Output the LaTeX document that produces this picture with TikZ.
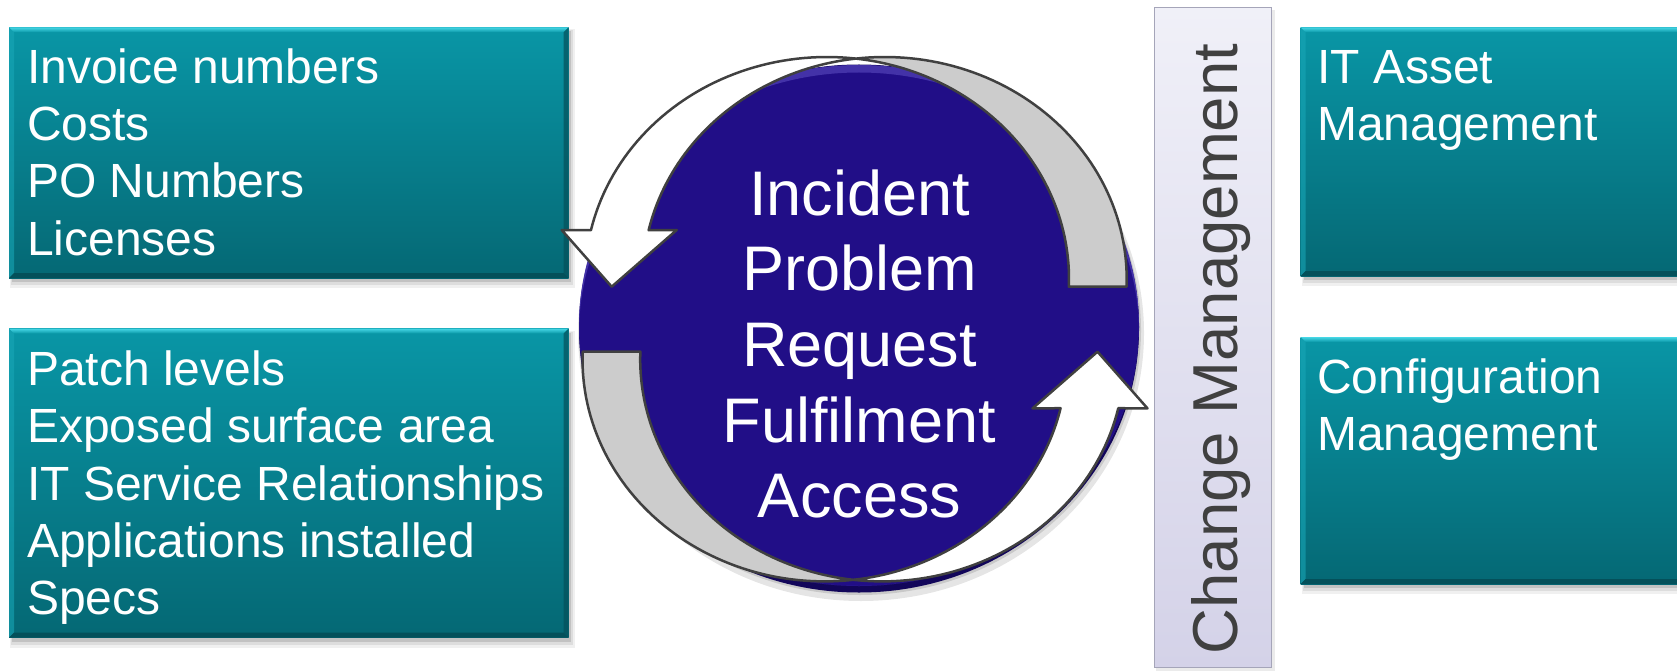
\documentclass[tikz,border=0pt]{standalone}
\usepackage{fontspec}
\setmainfont{Liberation Sans}
\definecolor{tealtop}{RGB}{9,150,166}
\definecolor{tealbot}{RGB}{5,104,116}
\definecolor{tealhi}{RGB}{70,215,230}
\definecolor{tealdk}{RGB}{4,80,90}
\definecolor{indigo}{RGB}{33,14,135}
\definecolor{indigodk}{RGB}{18,6,90}
\definecolor{indigohi}{RGB}{110,95,210}
\definecolor{bandgrey}{RGB}{204,204,204}
\definecolor{edgegrey}{RGB}{64,64,64}
\definecolor{bartop}{RGB}{240,240,248}
\definecolor{barbot}{RGB}{212,210,232}
\definecolor{barline}{RGB}{165,165,185}
\definecolor{bartext}{RGB}{64,64,64}
\newcommand{\tealbox}[4]{%
  \fill[black,opacity=0.06] (#1+1,#2+2) rectangle (#3+6,#4+10);
  \fill[black,opacity=0.08] (#1+2,#2+3) rectangle (#3+4,#4+7);
  \fill[black,opacity=0.12] (#1+3,#2+4) rectangle (#3+2,#4+4);
  \shade[top color=tealtop,bottom color=tealbot] (#1,#2) rectangle (#3,#4);
  \shade[top color=tealhi,bottom color=tealtop] (#1,#2) -- (#3,#2) -- (#3-5,#2+5) -- (#1+5,#2+5) -- cycle;
  \fill[tealtop!75!tealhi,opacity=0.6] (#1,#2) -- (#1+5,#2+5) -- (#1+5,#4-5) -- (#1,#4) -- cycle;
  \fill[tealdk,opacity=0.7] (#3,#2) -- (#3,#4) -- (#3-5,#4-5) -- (#3-5,#2+5) -- cycle;
  \fill[tealdk] (#1,#4) -- (#3,#4) -- (#3-5,#4-5) -- (#1+5,#4-5) -- cycle;
}
\tikzset{
  boxtxt/.style={text=white, font=\fontsize{48}{57.3}\selectfont, inner sep=0pt, anchor=base west},
  circtxt/.style={text=white, font=\fontsize{63}{75.7}\selectfont, inner sep=0pt, anchor=base},
  bartxt/.style={text=bartext, font=\fontsize{63.5}{70}\selectfont, inner sep=0pt, anchor=base, rotate=90},
  arrowline/.style={draw=edgegrey, line width=2.5, line join=round}
}
\begin{document}
\begin{tikzpicture}[x=1pt,y=-1pt]
\useasboundingbox (0,0) rectangle (1677,671);
% teal boxes
\tealbox{9}{27.3}{568.6}{278}
\tealbox{9}{328.5}{568.6}{637.5}
\tealbox{1300.5}{27.3}{1690}{276}
\tealbox{1300.5}{337}{1690}{584}
% change management bar
\fill[black,opacity=0.08] (1156,10) rectangle (1275,671);
\shade[top color=bartop,bottom color=barbot,draw=barline,line width=1.5] (1154.3,7.3) rectangle (1271.7,667.3);
% disk
\fill[black,opacity=0.10] (861,333) ellipse [x radius=283, y radius=268];
\fill[black,opacity=0.12] (860,330) ellipse [x radius=281, y radius=265];
\fill[indigodk] (859,328.5) ellipse [x radius=280, y radius=264];
\fill[indigo] (859,325.5) ellipse [x radius=280, y radius=260.5];
\begin{scope}
  \clip (859,325.5) ellipse [x radius=280, y radius=260.5];
  \fill[indigohi,opacity=0.45,even odd rule] (859,325.5) ellipse [x radius=280, y radius=260.5] (859,333) ellipse [x radius=280, y radius=260.5];
\end{scope}
% circular arrows (two ribbons, each bounded by two shifted elliptic arcs)
\foreach \r in {0,180}{
\begin{scope}[rotate around={\r:(854.6,319.2)}]
  \filldraw[fill=white, arrowline]
    plot[domain=167.3:83.4, samples=50, variable=\t] ({827+242*cos(\t)},{279-222*sin(\t)})
    -- plot[domain=97.1:167.3, samples=50, variable=\t] ({884.7+242*cos(\t)},{279-222*sin(\t)})
    -- (676.7,230) -- (611.7,286.7) -- (561.7,230) -- cycle;
  \filldraw[fill=bandgrey, arrowline]
    plot[domain=83.4:-2, samples=60, variable=\t] ({827+242*cos(\t)},{279-222*sin(\t)})
    -- plot[domain=-2:97.1, samples=60, variable=\t] ({884.7+242*cos(\t)},{279-222*sin(\t)})
    -- cycle;
\end{scope}
}
% texts
\node[boxtxt] (fin) at (27,83.3) {\vtop{\hbox{Invoice numbers}\hbox{Costs}\hbox{PO Numbers}\hbox{Licenses}}};
\node[boxtxt] (tech) at (27,385.5) {\vtop{\hbox{Patch levels}\hbox{Exposed surface area}\hbox{IT Service Relationships}\hbox{Applications installed}\hbox{Specs}}};
\node[boxtxt] (itam) at (1317,83.3) {\vtop{\hbox{IT Asset}\hbox{Management}}};
\node[boxtxt] (cfg) at (1317,393) {\vtop{\hbox{Configuration}\hbox{Management}}};
\node[circtxt] (proc) at (859.5,215) {\vtop{\hbox to 0pt{\hss Incident\hss}\hbox to 0pt{\hss Problem\hss}\hbox to 0pt{\hss Request\hss}\hbox to 0pt{\hss Fulfilment\hss}\hbox to 0pt{\hss Access\hss}}};
\node[bartxt] (chg) at (1237,349) {Change Management};
\end{tikzpicture}
\end{document}
